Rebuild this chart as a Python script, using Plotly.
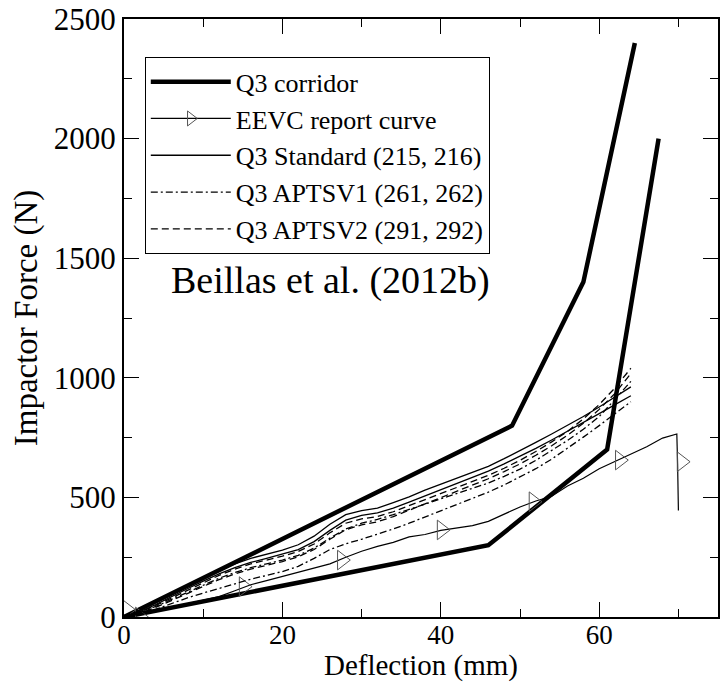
import plotly.graph_objects as go

# ---------------- data ----------------
corr_upper_x = [0, 49, 58, 64.5]
corr_upper_y = [0, 800, 1400, 2400]
corr_lower_x = [0, 46, 61, 67.5]
corr_lower_y = [0, 300, 700, 2000]

eevc_x = [0, 2, 4, 6, 8, 10, 12, 14, 16, 18, 20, 22, 24, 26, 28, 30, 32, 34, 36, 38, 40,
          42, 44, 46, 48, 50, 52, 54, 56, 58, 60, 62, 64, 66, 68, 69, 69.8, 69.9, 70.0]
eevc_y = [0, 12, 26, 40, 55, 68, 85, 110, 135, 152, 170, 188, 205, 222, 250, 275, 295, 312, 335, 345, 362,
          372, 382, 400, 430, 460, 485, 505, 548, 580, 620, 650, 680, 712, 748, 758, 765, 640, 445]
eevc_mark_x = [0.4, 2.0, 15.1, 27.5, 40.1, 51.7, 62.6, 70.4]
eevc_mark_y = [30, 0, 127, 238, 364, 482, 656, 649]

q3_x = [0, 2, 4, 6, 8, 10, 12, 14, 16, 18, 20, 22, 24, 26, 28, 30, 32,
        34, 36, 38, 40, 42, 44, 46, 48, 50, 52, 54, 56, 58, 60, 62, 64]
std_215 = [0, 28, 62, 98, 132, 165, 195, 222, 245, 262, 280, 302, 338, 388, 428, 445, 455,
           478, 502, 530, 555, 578, 602, 630, 662, 695, 730, 765, 800, 838, 878, 920, 962]
std_216 = [0, 22, 52, 86, 118, 150, 180, 206, 228, 245, 262, 282, 315, 362, 405, 425, 435,
           455, 480, 506, 532, 556, 582, 610, 640, 672, 705, 740, 776, 812, 850, 888, 925]
v1_261 = [0, 18, 44, 74, 104, 135, 162, 186, 206, 222, 238, 258, 288, 330, 368, 392, 408,
          428, 450, 472, 495, 515, 537, 560, 588, 618, 655, 695, 738, 785, 838, 910, 985]
v1_262 = [0, 12, 32, 56, 80, 100, 120, 140, 158, 174, 190, 212, 245, 282, 306, 325, 345,
          368, 392, 418, 445, 470, 496, 522, 552, 585, 620, 660, 705, 752, 800, 850, 900]
v2_291 = [0, 20, 48, 80, 112, 145, 174, 200, 222, 238, 254, 274, 305, 352, 392, 410, 420,
          440, 465, 490, 515, 540, 565, 592, 622, 655, 692, 732, 776, 828, 888, 958, 1040]
v2_292 = [0, 15, 40, 68, 98, 128, 156, 180, 200, 216, 232, 252, 282, 325, 365, 385, 398,
          420, 446, 472, 498, 524, 550, 578, 608, 640, 676, 716, 760, 810, 868, 935, 1018]

x_ticks = [0, 20, 40, 60]
y_ticks = [0, 500, 1000, 1500, 2000, 2500]

FONT = "Times New Roman, Liberation Serif, Times, serif"
DASH = "7px,4px"
DASHDOT = "7px,3px,2px,3px"
MARK = "#555555"

fig = go.Figure()

# corridor
fig.add_trace(go.Scatter(x=corr_upper_x, y=corr_upper_y, mode="lines", name="Q3 corridor",
                         line=dict(color="black", width=4.5), legendgroup="c"))
fig.add_trace(go.Scatter(x=corr_lower_x, y=corr_lower_y, mode="lines", showlegend=False,
                         line=dict(color="black", width=4.5), legendgroup="c"))

# EEVC (legend entry + line + markers)
fig.add_trace(go.Scatter(x=[None], y=[None], mode="lines+markers", name="EEVC report curve",
                         line=dict(color="black", width=1.2),
                         marker=dict(symbol="triangle-right-open", size=13, color=MARK,
                                     line=dict(color=MARK, width=1)), legendgroup="e"))
fig.add_trace(go.Scatter(x=eevc_x, y=eevc_y, mode="lines", showlegend=False,
                         line=dict(color="black", width=1.2), legendgroup="e"))
fig.add_trace(go.Scatter(x=eevc_mark_x, y=eevc_mark_y, mode="markers", showlegend=False,
                         marker=dict(symbol="triangle-right-open", size=17, color=MARK,
                                     line=dict(color=MARK, width=1)), legendgroup="e"))

# Q3 tests
fig.add_trace(go.Scatter(x=q3_x, y=std_215, mode="lines", name="Q3 Standard (215, 216)",
                         line=dict(color="black", width=1.3), legendgroup="s"))
fig.add_trace(go.Scatter(x=q3_x, y=std_216, mode="lines", showlegend=False,
                         line=dict(color="black", width=1.3), legendgroup="s"))
fig.add_trace(go.Scatter(x=q3_x, y=v1_261, mode="lines", name="Q3 APTSV1 (261, 262)",
                         line=dict(color="black", width=1.3, dash=DASHDOT), legendgroup="v1"))
fig.add_trace(go.Scatter(x=q3_x, y=v1_262, mode="lines", showlegend=False,
                         line=dict(color="black", width=1.3, dash=DASHDOT), legendgroup="v1"))
fig.add_trace(go.Scatter(x=q3_x, y=v2_291, mode="lines", name="Q3 APTSV2 (291, 292)",
                         line=dict(color="black", width=1.3, dash=DASH), legendgroup="v2"))
fig.add_trace(go.Scatter(x=q3_x, y=v2_292, mode="lines", showlegend=False,
                         line=dict(color="black", width=1.3, dash=DASH), legendgroup="v2"))

axis_common = dict(
    showgrid=False, zeroline=False, showline=True, linecolor="black", linewidth=2,
    mirror="ticks", ticks="inside", ticklen=15, tickwidth=1.3, tickcolor="black",
    automargin=False,
)

fig.update_xaxes(range=[0, 75], tickvals=x_ticks, ticktext=[str(v) for v in x_ticks],
                 tickfont=dict(family=FONT, size=27, color="black"),
                 ticklabelstandoff=-7,
                 minor=dict(tickvals=[10, 30, 50, 70], ticks="inside", ticklen=8,
                            tickwidth=1.3, tickcolor="black"),
                 title=dict(text="Deflection (mm)", font=dict(family=FONT, size=29, color="black"),
                            standoff=12),
                 **axis_common)
fig.update_yaxes(range=[0, 2500], tickvals=y_ticks, ticktext=[str(v) for v in y_ticks],
                 tickfont=dict(family=FONT, size=31, color="black"),
                 minor=dict(tickvals=[250, 750, 1250, 1750, 2250], ticks="inside", ticklen=8,
                            tickwidth=1.3, tickcolor="black"),
                 title=dict(text="Impactor Force (N)", font=dict(family=FONT, size=33, color="black"),
                            standoff=6),
                 **axis_common)

fig.add_annotation(text="Beillas et al. (2012b)", xref="paper", yref="paper",
                   x=0.347, y=0.562, showarrow=False,
                   font=dict(family=FONT, size=38, color="black"))

fig.update_layout(
    width=722, height=682,
    margin=dict(l=124, r=4, t=19, b=65),
    paper_bgcolor="white", plot_bgcolor="white",
    showlegend=True,
    legend=dict(x=0.035, y=0.936, xanchor="left", yanchor="top",
                bgcolor="white", bordercolor="black", borderwidth=1,
                font=dict(family=FONT, size=26, color="black"),
                tracegroupgap=0, itemwidth=80),
)

fig.write_html("out.html")
